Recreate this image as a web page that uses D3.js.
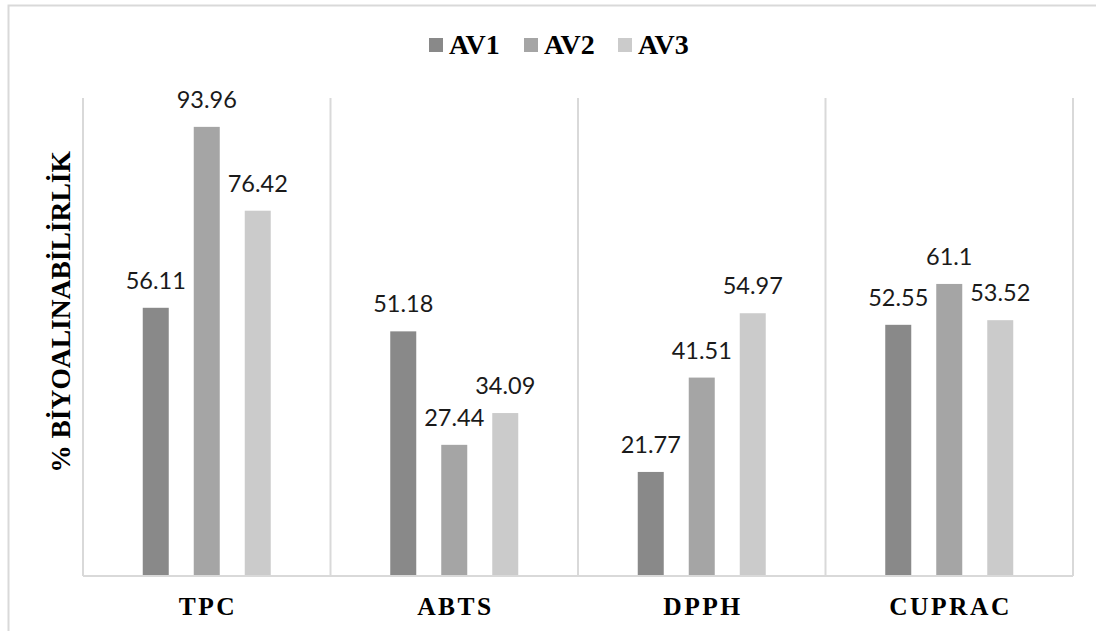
<!DOCTYPE html>
<html>
<head>
<meta charset="utf-8">
<script src="https://cdn.jsdelivr.net/npm/d3@7"></script>
<style>
  html, body { margin: 0; padding: 0; background: #fff; }
  svg { display: block; }
</style>
</head>
<body>
<svg id="chart" width="1096" height="631"></svg>
<script>
// Bioaccessibility (%) of antioxidant assays for three samples
const categories = ["TPC", "ABTS", "DPPH", "CUPRAC"];
const seriesNames = ["AV1", "AV2", "AV3"];
const av1 = [56.11, 51.18, 21.77, 52.55];
const av2 = [93.96, 27.44, 41.51, 61.1];
const av3 = [76.42, 34.09, 54.97, 53.52];
const seriesValues = [av1, av2, av3];
const yTitle = "% BİYOALINABİLİRLİK";

const colors = ["#898989", "#a5a5a5", "#cbcbcb"];
const gridColor = "#d9d9d9";

const svg = d3.select("#chart");

// chart frame
svg.append("rect")
  .attr("x", 8.5).attr("y", 5.5)
  .attr("width", 1100).attr("height", 650)
  .attr("fill", "#fff")
  .attr("stroke", gridColor).attr("stroke-width", 2);

const plot = { left: 83, right: 1073, top: 98, bottom: 576 };

const x0 = d3.scaleBand().domain(categories).range([plot.left, plot.right]).padding(0);
const x1 = d3.scaleBand().domain(seriesNames).range([-64, 64]).paddingInner(25 / 51).paddingOuter(0);
const y = d3.scaleLinear().domain([0, 100]).range([plot.bottom, plot.top]);

// vertical category dividers
const dividers = categories.map(c => x0(c)).concat([plot.right]);
svg.append("g").selectAll("line").data(dividers).join("line")
  .attr("x1", d => d).attr("x2", d => d)
  .attr("y1", plot.top).attr("y2", plot.bottom)
  .attr("stroke", gridColor).attr("stroke-width", 2);

// bars
const rows = [];
categories.forEach((c, i) => {
  seriesNames.forEach((s, j) => rows.push({ cat: c, series: s, idx: j, value: seriesValues[j][i] }));
});

const cx = c => x0(c) + x0.bandwidth() / 2;

svg.append("g").selectAll("rect").data(rows).join("rect")
  .attr("x", d => cx(d.cat) + x1(d.series))
  .attr("y", d => y(d.value))
  .attr("width", x1.bandwidth())
  .attr("height", d => y(0) - y(d.value))
  .attr("fill", d => colors[d.idx]);

// value labels
svg.append("g").selectAll("text").data(rows).join("text")
  .attr("x", d => cx(d.cat) + x1(d.series) + x1.bandwidth() / 2)
  .attr("y", d => y(d.value) - 19)
  .attr("text-anchor", "middle")
  .attr("font-family", "Lato, 'Open Sans', sans-serif")
  .attr("font-size", 23.5)
  .attr("fill", "#1a1a1a")
  .text(d => d.value);

// category axis
const xAxis = d3.axisBottom(x0).tickSize(0).tickPadding(0);
const gx = svg.append("g").attr("transform", `translate(0,${plot.bottom})`).call(xAxis);
gx.select(".domain").attr("stroke", gridColor).attr("stroke-width", 2)
  .attr("d", `M${plot.left},0H${plot.right}`);
gx.selectAll(".tick text")
  .attr("y", 38.5)
  .attr("dy", 0)
  .attr("dx", 1.25)
  .attr("font-family", "'Liberation Serif', 'Times New Roman', serif")
  .attr("font-weight", "bold")
  .attr("font-size", 25.5)
  .attr("letter-spacing", "2.5px")
  .attr("fill", "#000");

// y title
svg.append("text")
  .attr("transform", "translate(70,312) rotate(-90)")
  .attr("text-anchor", "middle")
  .attr("font-family", "'Liberation Serif', 'Times New Roman', serif")
  .attr("font-weight", "bold")
  .attr("font-size", 27.5)
  .attr("fill", "#000")
  .text(yTitle);

// legend
const legendX = [429, 524, 618];
const legend = svg.append("g").selectAll("g").data(seriesNames).join("g")
  .attr("transform", (d, i) => `translate(${legendX[i]},38)`);
legend.append("rect")
  .attr("width", 14).attr("height", 14)
  .attr("fill", (d, i) => colors[i]);
legend.append("text")
  .attr("x", 20).attr("y", 15.5)
  .attr("font-family", "'Liberation Serif', 'Times New Roman', serif")
  .attr("font-weight", "bold")
  .attr("font-size", 28)
  .attr("fill", "#000")
  .text(d => d);
</script>
</body>
</html>
